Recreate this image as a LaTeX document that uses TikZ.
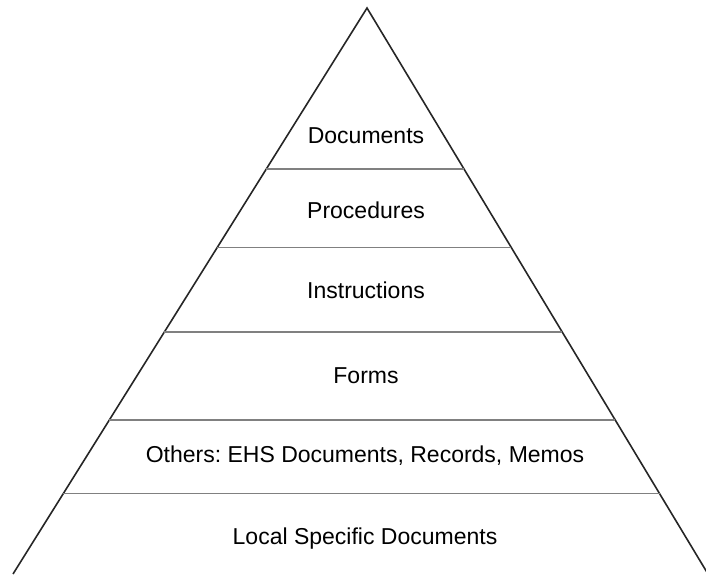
\documentclass[tikz,border=0pt]{standalone}
\usepackage{fontspec}
\setmainfont{Liberation Sans}
\usetikzlibrary{calc}
\frenchspacing

\begin{document}
\begin{tikzpicture}[x=1pt, y=-1pt,
	side/.style={line width=1.6pt, black!85},
	layer/.style={line width=1.2pt, black!50},
	label/.style={anchor=base, inner sep=0pt, font=\fontsize{23}{27}\selectfont}]
\useasboundingbox (0,0) rectangle (706,574);
\coordinate (apex) at (367,8);
\coordinate (bl) at (13,574);
\coordinate (br) at (708,574);
\draw[side] (bl) -- (apex) -- (br);
%layer borders
\foreach \t in {0.2845,0.4235,0.5724,0.7279,0.8581}
	\draw[layer] ($(apex)!\t!(bl)$) -- ($(apex)!\t!(br)$);
\node[label] (documents) at (366,143) {Documents};
\node[label] (procedures) at (366,218) {Procedures};
\node[label] (instructions) at (366,298) {Instructions};
\node[label] (forms) at (366,383) {Forms};
\node[label] (others) at (365,462) {Others: EHS Documents, Records, Memos};
\node[label] (local) at (365,544) {Local Specific Documents};
\end{tikzpicture}
\end{document}
